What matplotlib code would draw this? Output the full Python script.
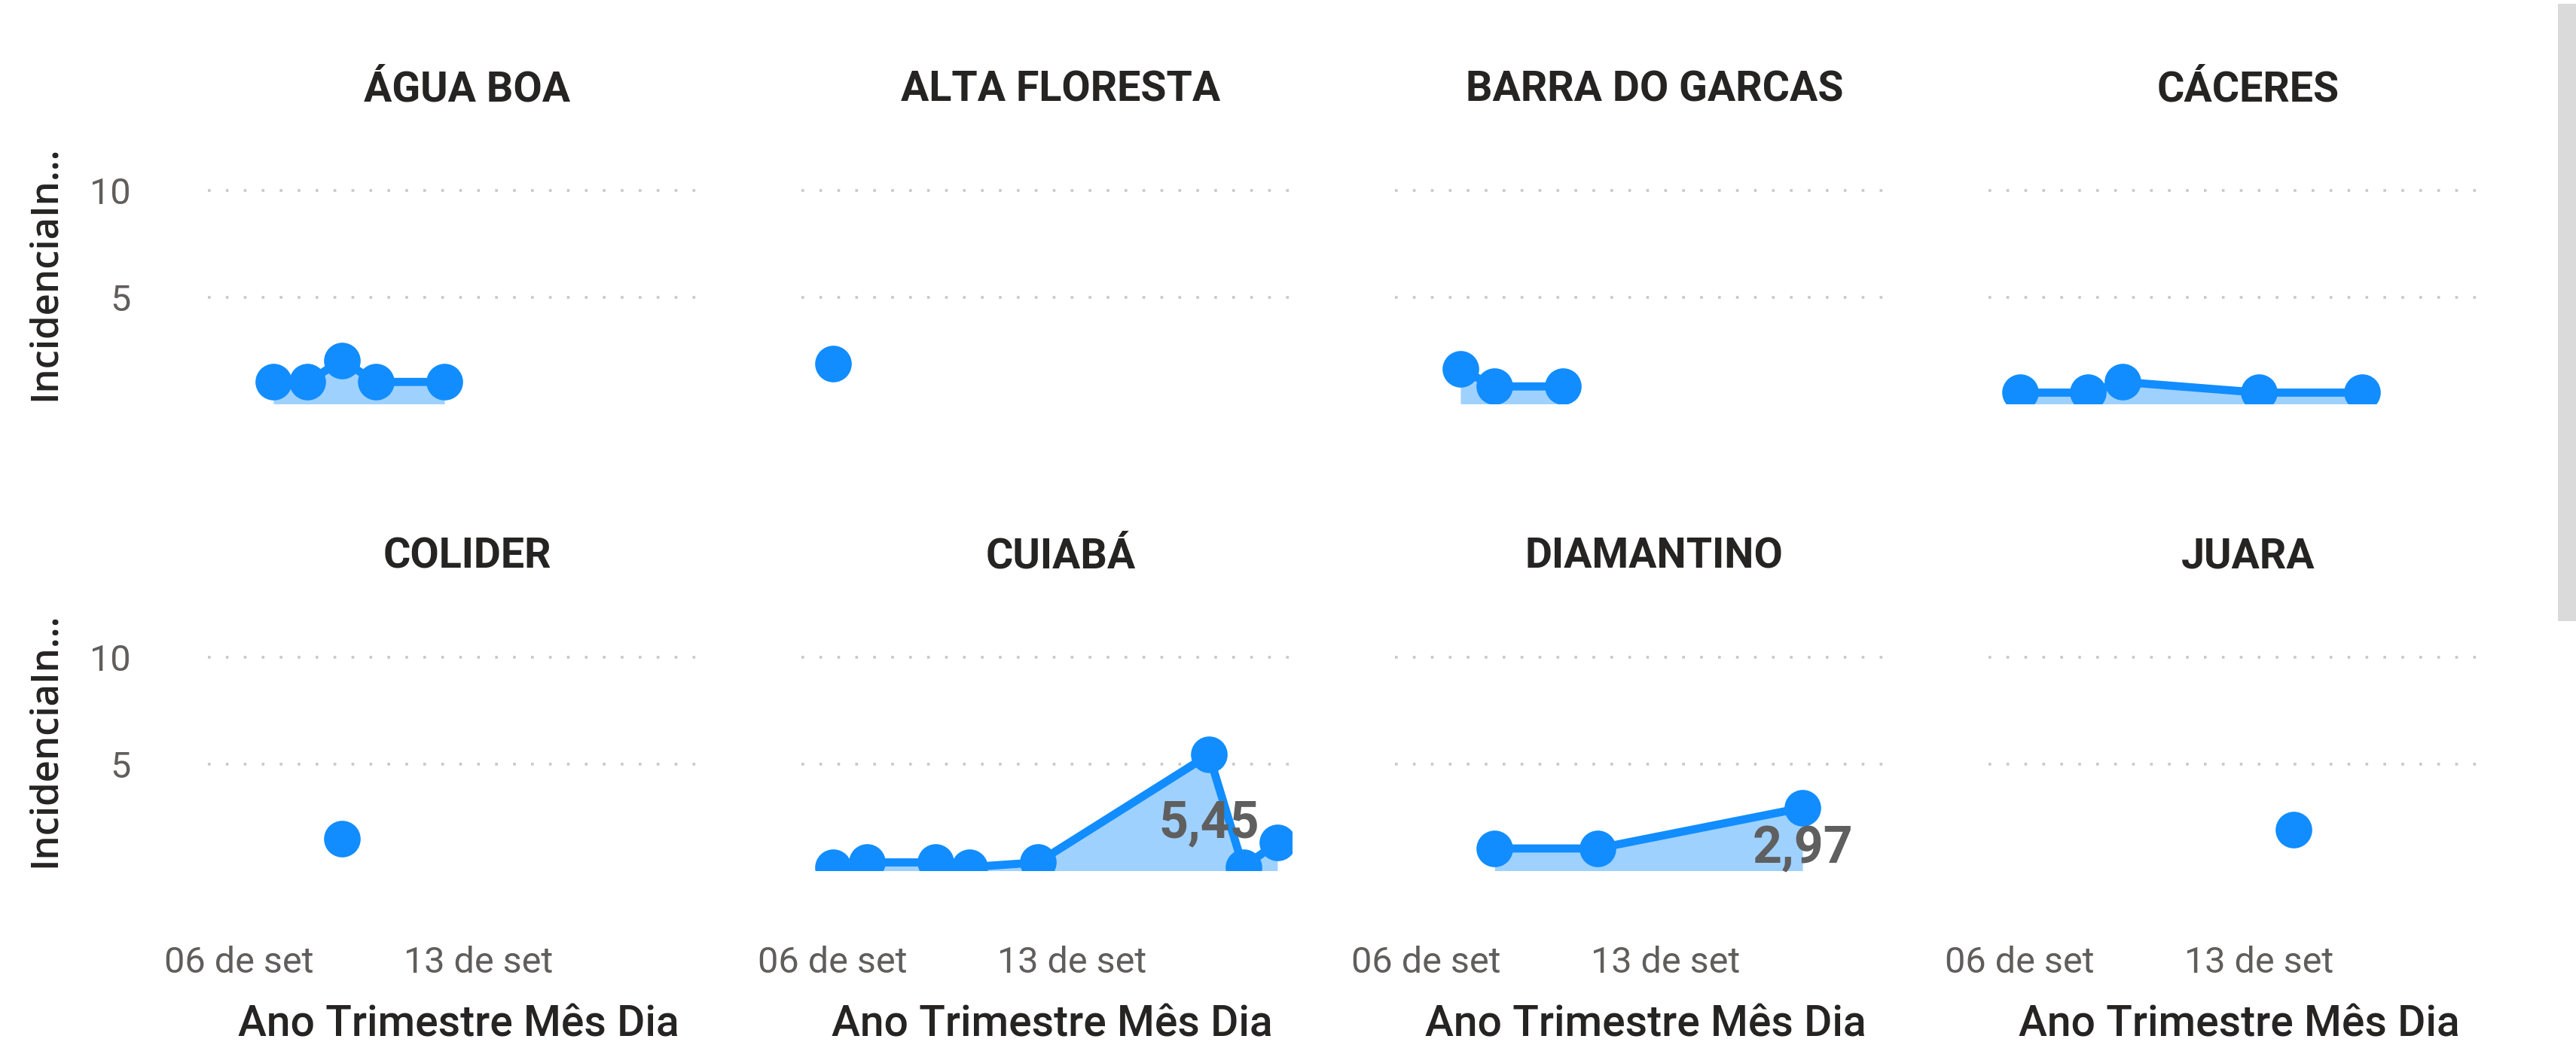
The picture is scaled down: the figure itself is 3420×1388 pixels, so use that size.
from matplotlib import pyplot as plt
from matplotlib.patches import Rectangle

# painel (município) -> dias de setembro e incidência
cidades = ['ÁGUA BOA', 'ALTA FLORESTA', 'BARRA DO GARCAS', 'CÁCERES',
           'COLIDER', 'CUIABÁ', 'DIAMANTINO', 'JUARA']

agua_boa_dias = [7, 8, 9, 10, 12]
agua_boa_vals = [1.06, 1.06, 2.07, 1.06, 1.06]

alta_floresta_dias = [6]
alta_floresta_vals = [1.9]

barra_dias = [7, 8, 10]
barra_vals = [1.65, 0.85, 0.85]

caceres_dias = [6, 8, 9, 13, 16]
caceres_vals = [0.56, 0.56, 1.06, 0.56, 0.56]

colider_dias = [9]
colider_vals = [1.54]

cuiaba_dias = [6, 7, 9, 10, 12, 17, 18, 19]
cuiaba_vals = [0.2, 0.42, 0.42, 0.2, 0.42, 5.45, 0.2, 1.35]

diamantino_dias = [8, 11, 17]
diamantino_vals = [1.07, 1.07, 2.97]

juara_dias = [14]
juara_vals = [1.94]

series = [(agua_boa_dias, agua_boa_vals), (alta_floresta_dias, alta_floresta_vals),
          (barra_dias, barra_vals), (caceres_dias, caceres_vals),
          (colider_dias, colider_vals), (cuiaba_dias, cuiaba_vals),
          (diamantino_dias, diamantino_vals), (juara_dias, juara_vals)]

# rótulos de dados mostrados (painel -> índice do ponto)
rotulos = {'CUIABÁ': 5, 'DIAMANTINO': 2}
rotulo_offset = {'CUIABÁ': -39.5, 'DIAMANTINO': -26.5}

xticks = [6, 13]
xtick_labels = ['06 de set', '13 de set']
yticks = [5, 10]

AZUL = '#118DFF'
ESCURO = '#252423'
CINZA = '#605E5C'

W, H = 3420, 1388
fig = plt.figure(figsize=(W / 200, H / 200), dpi=200)
plt.rcParams['font.family'] = ['Roboto', 'DejaVu Sans']

lefts = [276, 1064, 1852, 2640]
bottoms = [536, 1156]
aw, ah = 651, 347

for i, (nome, (dias, vals)) in enumerate(zip(cidades, series)):
    row, col = divmod(i, 4)
    ax = fig.add_axes([lefts[col] / W, 1 - bottoms[row] / H, aw / W, ah / H])
    ax.set_xlim(5.085, 19.42)
    ax.set_ylim(0.05, 12.25)

    if len(dias) > 1:
        ax.fill_between(dias, vals, 0, color=AZUL, alpha=0.4, lw=0, zorder=2)
    ax.plot(dias, vals, color=AZUL, lw=3.9, marker='o', ms=16.5,
            solid_joinstyle='round', zorder=3)

    if nome in rotulos:
        k = rotulos[nome]
        ax.annotate(f'{vals[k]:.2f}'.replace('.', ','), (dias[k], vals[k]),
                    xytext=(0, rotulo_offset[nome]), textcoords='offset points',
                    ha='center', va='baseline', fontsize=24.5,
                    fontweight='bold', color='#5F5F5F', zorder=4)

    for s in ax.spines.values():
        s.set_visible(False)
    ax.set_yticks(yticks)
    ax.grid(axis='y', color='#C8C8C8', lw=1.3, linestyle=(0, (1, 5.6)))
    ax.grid(axis='x', visible=False)
    ax.set_axisbelow(True)
    ax.tick_params(length=0)

    if col == 0:
        ax.tick_params(axis='y', pad=37, labelsize=17.5, labelcolor=CINZA)
        ax.text(-0.332, 0.5, 'IncidenciaIn...', transform=ax.transAxes,
                rotation=90, ha='center', va='center', fontsize=18.3,
                fontweight='semibold', family=['Open Sans', 'DejaVu Sans'],
                color=ESCURO)
    else:
        ax.set_yticklabels([])

    if row == 1:
        ax.set_xticks(xticks, xtick_labels)
        ax.tick_params(axis='x', pad=36, labelsize=17.5, labelcolor=CINZA)
        ax.text(0.5115, -0.635, 'Ano Trimestre Mês Dia', transform=ax.transAxes,
                ha='center', va='baseline', fontsize=20.5, fontweight='medium',
                color=ESCURO)
    else:
        ax.set_xticks([])

    ax.text(0.529, 1.158, nome, transform=ax.transAxes, ha='center',
            va='baseline', fontsize=20, fontweight='bold', color=ESCURO)

# barra de rolagem à direita
fig.patches.append(Rectangle((3396 / W, 1 - 825 / H), 24 / W, 820 / H,
                             transform=fig.transFigure, color='#DADADA', lw=0))

fig.savefig('out.png', dpi=200, facecolor='white')
